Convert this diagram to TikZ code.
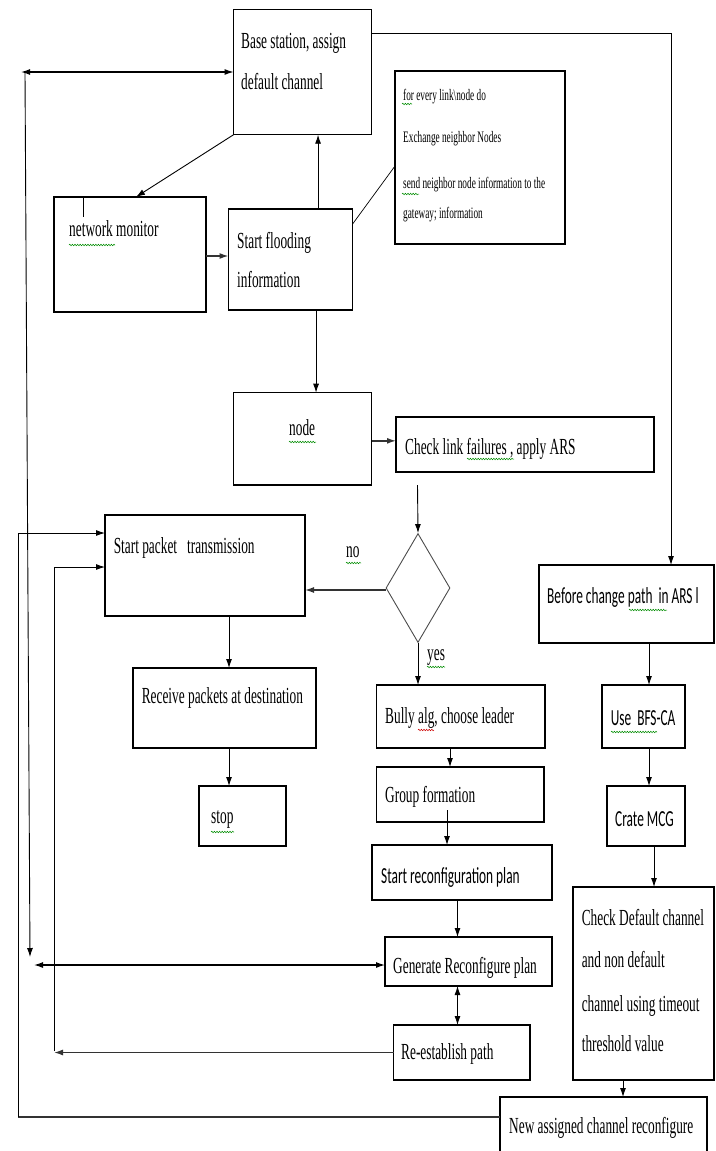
\documentclass[tikz,border=0pt]{standalone}
\usepackage{fontspec}
\setmainfont{Liberation Serif}[FakeStretch=0.58]
\newfontfamily\sansf{Carlito}[FakeStretch=0.58]
\usetikzlibrary{arrows.meta,shapes.geometric,decorations.pathmorphing}
\begin{document}
\begin{tikzpicture}[x=1pt,y=-1pt,
  box/.style={draw, line width=1.3pt, rectangle, anchor=north west, inner sep=0pt, outer sep=0pt},
  tx/.style={anchor=base west, inner sep=0pt, font=\fontsize{23}{28}\selectfont},
  sx/.style={anchor=base west, inner sep=0pt, font=\sansf\fontsize{23}{28}\selectfont},
  smalltx/.style={anchor=base west, inner sep=0pt, font=\fontsize{16}{19}\selectfont},
  conn/.style={line width=0.9pt, -{Latex[length=9pt,width=6pt]}},
  connb/.style={line width=1.2pt, {Latex[length=9pt,width=6pt]}-{Latex[length=9pt,width=6pt]}},
  thickconn/.style={line width=1.4pt, draw=black!80, -{Latex[length=9pt,width=6pt]}},
  plain/.style={line width=0.9pt},
  squig/.style={draw=green!55!black, line width=0.5pt, decorate, decoration={snake, amplitude=0.8pt, segment length=2.6pt}},
  squigr/.style={draw=red!80!black, line width=0.5pt, decorate, decoration={snake, amplitude=0.8pt, segment length=2.6pt}}]
\useasboundingbox (0,0) rectangle (715,1151);
\clip (0,0) rectangle (715,1151);

% boxes
\node[box, minimum width=137.9pt, minimum height=125.4pt] (base) at (233.6,9.3) {};
\node[box, minimum width=152pt, minimum height=115pt] (netmon) at (54,197) {};
\node[box, minimum width=124.1pt, minimum height=101pt] (flood) at (228.5,209) {};
\node[box, minimum width=170pt, minimum height=173pt] (info) at (395,71) {};
\node[box, minimum width=137.9pt, minimum height=92.3pt] (nodebox) at (233.6,392.7) {};
\node[box, minimum width=258pt, minimum height=55pt] (check) at (396,417) {};
\node[box, minimum width=200pt, minimum height=101pt] (spkt) at (105,515) {};
\node[box, minimum width=175pt, minimum height=78pt] (before) at (539,565) {};
\node[box, minimum width=183pt, minimum height=80pt] (receive) at (133,668) {};
\node[box, minimum width=87pt, minimum height=60pt] (stop) at (199,786) {};
\node[box, minimum width=168.4pt, minimum height=63pt] (bully) at (376.6,685) {};
\node[box, minimum width=167.4pt, minimum height=55pt] (group) at (376.6,767) {};
\node[box, minimum width=180pt, minimum height=55pt] (sreconf) at (372,845) {};
\node[box, minimum width=167pt, minimum height=49pt] (gen) at (385,937) {};
\node[box, minimum width=136.4pt, minimum height=55pt] (reest) at (393.6,1025) {};
\node[box, minimum width=83pt, minimum height=63pt] (use) at (602,685) {};
\node[box, minimum width=78pt, minimum height=60pt] (crate) at (607,786) {};
\node[box, minimum width=141pt, minimum height=193pt] (checkd) at (573,887) {};
\node[box, minimum width=207pt, minimum height=73pt] (newbox) at (500,1097) {};
\node[draw=black!70, line width=0.9pt, diamond, minimum width=64pt, minimum height=109pt, inner sep=0pt, aspect=0.59] (dia) at (418,588) {};

% texts
\node[tx] (t1) at (241,48) {Base station, assign};
\node[tx] (t2) at (241,89) {default channel};
\node[tx] (t3) at (69,236) {network monitor};
\node[tx] (t4) at (237,248) {Start flooding};
\node[tx] (t5) at (237,287) {information};
\node[smalltx] (t6) at (403,100) {for every link\textbackslash node do};
\node[smalltx] (t7) at (403,142) {Exchange neighbor Nodes};
\node[smalltx] (t8) at (403,188) {send neighbor node information to the};
\node[smalltx] (t9) at (403,218) {gateway; information};
\node[tx] (t10) at (289,435) {node};
\node[tx] (t11) at (405,454) {Check link failures , apply ARS};
\node[tx] (t12) at (113.6,553) {Start packet\ \ \ transmission};
\node[tx] (t13) at (346,557) {no};
\node[tx] (t14) at (427,660) {yes};
\node[sx] (t15) at (547,603) {Before change path\ \ in ARS l};
\node[tx] (t16) at (141.6,703) {Receive packets at destination};
\node[tx] (t17) at (211,823) {stop};
\node[tx] (t18) at (385,723) {Bully alg, choose leader};
\node[tx] (t19) at (385,802) {Group formation};
\node[sx] (t20) at (381,883) {Start reconfiguration plan};
\node[tx] (t21) at (393,973) {Generate Reconfigure plan};
\node[tx] (t22) at (401,1059) {Re-establish path};
\node[sx] (t23) at (610.6,725) {Use\ \ BFS-CA};
\node[sx] (t24) at (615,826) {Crate MCG};
\node[tx] (t25) at (581.6,925) {Check Default channel};
\node[tx] (t26) at (581.6,967) {and non default};
\node[tx] (t27) at (581.6,1011) {channel using timeout};
\node[tx] (t28) at (581.6,1051) {threshold value};
\node[tx] (t29) at (509,1133) {New assigned channel reconfigure};

% spell-check underlines
\draw[squig] (69,245) -- (115,245);
\draw[squig] (402,104) -- (412,104);
\draw[squig] (402,194) -- (419,194);
\draw[squig] (289,442) -- (316,442);
\draw[squig] (467,459) -- (514,459);
\draw[squig] (346,563) -- (361,563);
\draw[squig] (427,667) -- (445,667);
\draw[squig] (629,610) -- (667,610);
\draw[squigr] (418,730) -- (434,730);
\draw[squig] (611,732) -- (657,732);
\draw[squig] (211,832) -- (234,832);

% helper coordinates
\coordinate (L0) at (21,72);
\coordinate (L3) at (25,72);
\coordinate (L4) at (30,957);
\coordinate (L5) at (34,965);
\coordinate (L1) at (18,1117);
\coordinate (L2) at (54,1051);
\coordinate (dtop) at (417.5,485);

% connectors
\draw[connb] (L0) -- (base.west);
\draw[conn] (L3) -- (L4);
\draw[connb] (L5) -- (L5 -| gen.west);
\draw[conn] (base.south west) -- ([xshift=6pt]netmon.north);
\draw[plain] ([xshift=-47pt]netmon.north) -- ++(0,20);
\draw[thickconn] ([yshift=-1.5pt]netmon.east) -- ([yshift=-1.5pt]netmon.east -| flood.west);
\draw[conn] ([xshift=27.5pt]flood.north) -- ([xshift=27.5pt]flood.north |- base.south);
\draw[line width=0.7pt] ([yshift=-15pt]flood.north east) -- ([yshift=-8.5pt]info.west);
\draw[conn] ([xshift=25.5pt]flood.south) -- ([xshift=25.5pt]flood.south |- nodebox.north);
\draw[thickconn] ([yshift=-2pt]nodebox.east) -- ([yshift=-2pt]nodebox.east -| check.west);
\draw[conn] (dtop) -- (dia.north);
\draw[thickconn] ([yshift=-2pt]dia.west) -- ([yshift=-2pt]dia.west -| spkt.east);
\draw[conn] (dia.south) -- (dia.south |- bully.north);
\draw[conn] ([yshift=39pt]base.east) -| ([xshift=44.5pt]before.north);
\draw[conn] ([xshift=22.5pt]before.south) -- ([xshift=22.5pt]before.south |- use.north);
\draw[conn] ([xshift=5.5pt]use.south) -- ([xshift=5.5pt]use.south |- crate.north);
\draw[conn] ([xshift=8pt]crate.south) -- ([xshift=8pt]crate.south |- checkd.north);
\draw[conn] ([xshift=-20.5pt]checkd.south) -- ([xshift=-20.5pt]checkd.south |- newbox.north);
\draw[conn] ([xshift=24pt]spkt.south) -- ([xshift=24pt]spkt.south |- receive.north);
\draw[conn] ([xshift=4.5pt]receive.south) -- ([xshift=4.5pt]receive.south |- stop.north);
\draw[conn] ([xshift=-10.8pt]bully.south) -- ([xshift=-10.8pt]bully.south |- group.north);
\draw[conn] ([xshift=-13.3pt,yshift=12pt]group.south) -- ([xshift=-13.3pt]group.south |- sreconf.north);
\draw[conn] ([xshift=-4.5pt]sreconf.south) -- ([xshift=-4.5pt]sreconf.south |- gen.north);
\draw[connb, line width=0.9pt] ([xshift=-11pt]gen.south) -- ([xshift=-11pt]gen.south |- reest.north);
\draw[thickconn] (reest.west) -- (reest.west -| L2);
\draw[conn] (L2) |- ([yshift=-1.5pt]spkt.west);
\draw[line width=1.4pt, draw=black!80] ([yshift=16.5pt]newbox.west) -- ([yshift=16.5pt]newbox.west -| L1);
\draw[conn] (L1) |- ([yshift=32.5pt]spkt.west);
\end{tikzpicture}
\end{document}
